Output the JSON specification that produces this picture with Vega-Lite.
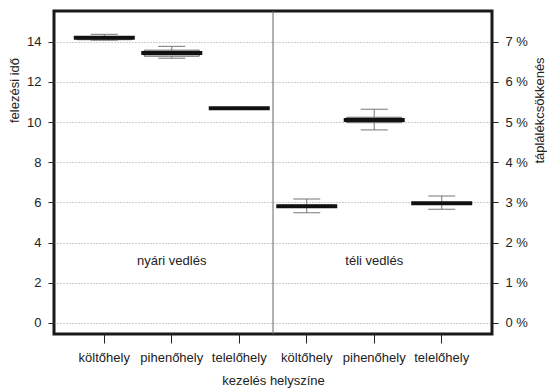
{
  "$schema": "https://vega.github.io/schema/vega-lite/v6.json",
  "width": 438,
  "height": 323,
  "autosize": {"type": "none"},
  "padding": {"left": 54, "top": 11, "right": 55, "bottom": 55},
  "background": "white",
  "config": {
    "view": {"stroke": "#1a1a1a", "strokeWidth": 3},
    "font": "Liberation Sans",
    "axis": {"labelFont": "Liberation Sans", "titleFont": "Liberation Sans", "labelFontSize": 13, "titleFontSize": 13, "labelColor": "#222", "titleColor": "#222", "titleFontWeight": "normal", "tickColor": "#222", "domain": false}
  },
  "datasets": {
    "boxes": [
      {"grp": "nyári költőhely", "min": 14.08, "q1": 14.1, "med": 14.2, "q3": 14.23, "max": 14.37},
      {"grp": "nyári pihenőhely", "min": 13.18, "q1": 13.28, "med": 13.44, "q3": 13.58, "max": 13.77},
      {"grp": "nyári telelőhely", "min": 10.66, "q1": 10.67, "med": 10.69, "q3": 10.71, "max": 10.73},
      {"grp": "téli költőhely", "min": 5.49, "q1": 5.76, "med": 5.81, "q3": 5.86, "max": 6.17},
      {"grp": "téli pihenőhely", "min": 9.61, "q1": 9.97, "med": 10.1, "q3": 10.24, "max": 10.64},
      {"grp": "téli telelőhely", "min": 5.66, "q1": 5.92, "med": 5.96, "q3": 6.0, "max": 6.32}
    ],
    "notes": [
      {"grp": "nyári pihenőhely", "y": 3.1, "label": "nyári vedlés"},
      {"grp": "téli pihenőhely", "y": 3.1, "label": "téli vedlés"}
    ],
    "divider": [{"grp": "nyári telelőhely"}],
    "pct": [{"p": 0}, {"p": 7}]
  },
  "layer": [
    {
      "layer": [
        {
          "data": {"name": "divider"},
          "mark": {"type": "rule", "color": "#666", "strokeWidth": 1},
          "encoding": {
            "x": {"field": "grp", "type": "nominal", "bandPosition": 1}
          }
        },
        {
          "data": {"name": "boxes"},
          "mark": {"type": "rule", "color": "#777", "strokeWidth": 1},
          "encoding": {
            "x": {"field": "grp", "type": "nominal"},
            "y": {"field": "min", "type": "quantitative"},
            "y2": {"field": "max"}
          }
        },
        {
          "data": {"name": "boxes"},
          "mark": {"type": "tick", "color": "#777", "opacity": 1, "size": 27, "thickness": 1},
          "encoding": {
            "x": {"field": "grp", "type": "nominal"},
            "y": {"field": "min", "type": "quantitative"}
          }
        },
        {
          "data": {"name": "boxes"},
          "mark": {"type": "tick", "color": "#777", "opacity": 1, "size": 27, "thickness": 1},
          "encoding": {
            "x": {"field": "grp", "type": "nominal"},
            "y": {"field": "max", "type": "quantitative"}
          }
        },
        {
          "data": {"name": "boxes"},
          "mark": {"type": "bar", "width": 55, "fill": "#d0d0d0", "stroke": "#666", "strokeWidth": 1, "opacity": 1},
          "encoding": {
            "x": {"field": "grp", "type": "nominal"},
            "y": {"field": "q1", "type": "quantitative"},
            "y2": {"field": "q3"}
          }
        },
        {
          "data": {"name": "boxes"},
          "mark": {"type": "tick", "color": "#111", "opacity": 1, "size": 61, "thickness": 4},
          "encoding": {
            "x": {"field": "grp", "type": "nominal"},
            "y": {"field": "med", "type": "quantitative"}
          }
        },
        {
          "data": {"name": "notes"},
          "mark": {"type": "text", "font": "Liberation Sans", "fontSize": 13, "color": "#222"},
          "encoding": {
            "x": {"field": "grp", "type": "nominal"},
            "y": {"field": "y", "type": "quantitative"},
            "text": {"field": "label"}
          }
        }
      ],
      "encoding": {
        "x": {
          "field": "grp",
          "type": "nominal",
          "sort": null,
          "scale": {"type": "band", "paddingInner": 0, "paddingOuter": 0.245, "domain": ["nyári költőhely", "nyári pihenőhely", "nyári telelőhely", "téli költőhely", "téli pihenőhely", "téli telelőhely"]},
          "axis": {"title": "kezelés helyszíne", "labelAngle": 0, "tickSize": 9, "tickBand": "center", "labelPadding": 8, "titlePadding": 10, "labelExpr": "split(datum.label, ' ')[1]", "grid": false}
        },
        "y": {
          "type": "quantitative",
          "scale": {"domain": [-0.55, 15.53], "nice": false, "zero": false},
          "axis": {"title": "felezési idő", "values": [0, 2, 4, 6, 8, 10, 12, 14], "tickSize": 6, "labelPadding": 7, "grid": true, "gridDash": [1, 2], "gridColor": "#999", "gridWidth": 1, "titleAngle": -90, "titleX": -40, "titleY": 79, "titleAlign": "center", "titleBaseline": "middle"}
        }
      }
    },
    {
      "data": {"name": "pct"},
      "mark": {"type": "point", "opacity": 0},
      "encoding": {
        "y": {
          "field": "p",
          "type": "quantitative",
          "scale": {"domain": [-0.275, 7.765], "nice": false, "zero": false},
          "axis": {"orient": "right", "title": "táplálékcsökkenés", "values": [0, 1, 2, 3, 4, 5, 6, 7], "labelExpr": "datum.value + ' %'", "tickSize": 6, "labelPadding": 7, "grid": false, "titleAngle": -90, "titleX": 47, "titleY": 99, "titleAlign": "center", "titleBaseline": "middle"}
        }
      }
    }
  ],
  "resolve": {"scale": {"y": "independent"}, "axis": {"y": "independent"}}
}
